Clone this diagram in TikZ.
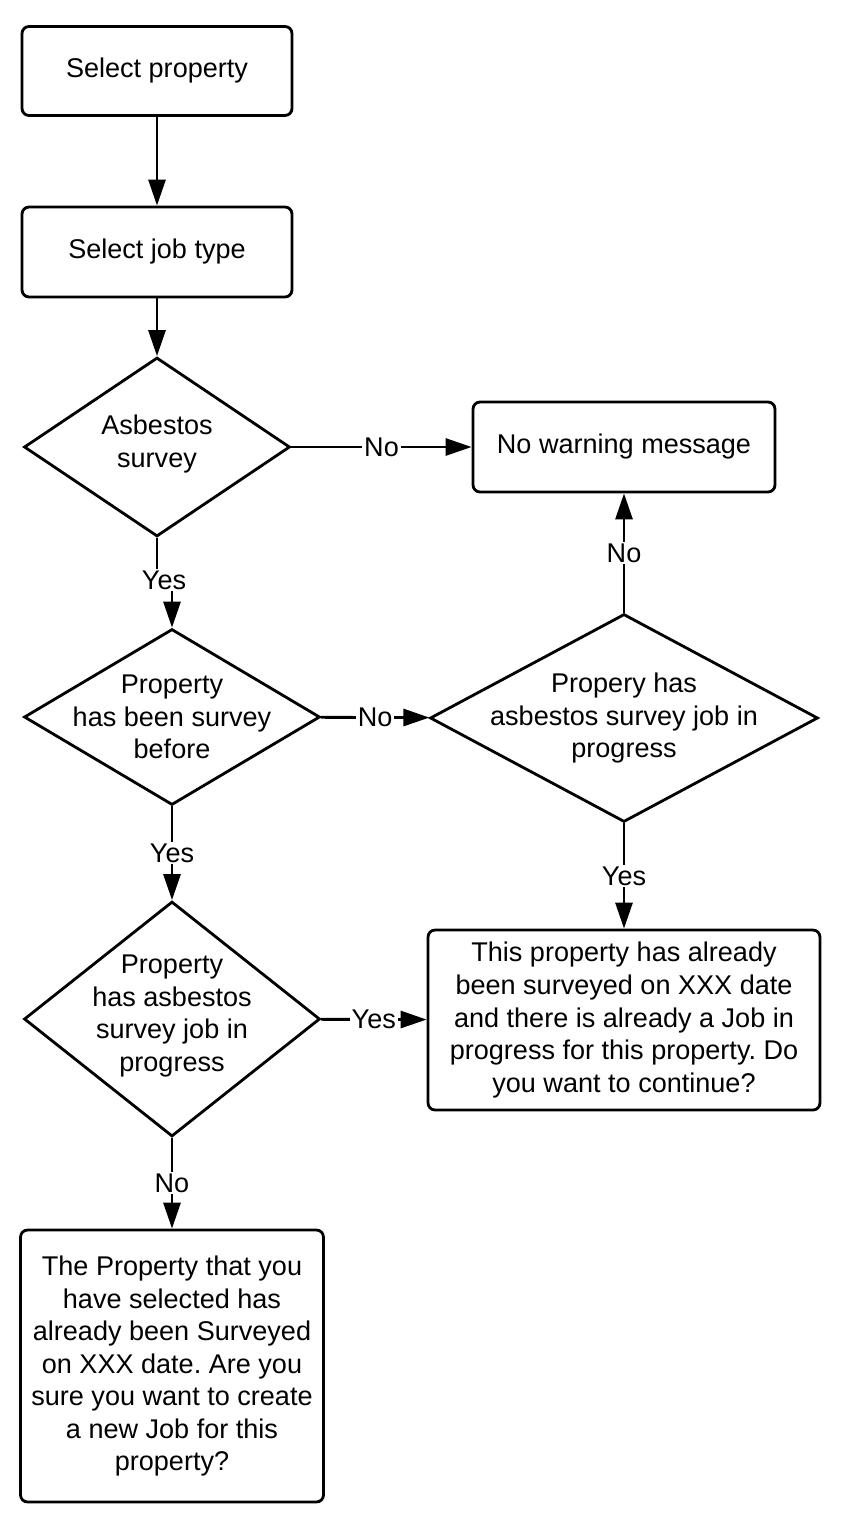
\documentclass[tikz,border=0pt]{standalone}
\usepackage{fontspec}
\setmainfont{Liberation Sans}
\usetikzlibrary{arrows.meta,shapes.geometric}
\frenchspacing

\tikzset{
  stepbox/.style={draw, line width=1.6pt, rounded corners=0.14cm, fill=white, align=center, inner sep=0pt},
  decision/.style={draw, diamond, line width=1.6pt, fill=white, inner sep=0pt},
  dtext/.style={align=center, inner sep=0pt},
  flow/.style={line width=1.6pt, -{Triangle[length=0.52cm,width=0.34cm]}},
  lab/.style={fill=white, inner sep=1pt}
}

\begin{document}
\begin{tikzpicture}[x=0.02cm, y=-0.02cm, font=\fontsize{15.4pt}{18.5pt}\selectfont]
\useasboundingbox (0,0) rectangle (840,1524);

% Riquadri
\node[stepbox, minimum width=5.4cm, minimum height=1.78cm] (prop) at (157,71) {Select property};
\node[stepbox, minimum width=5.4cm, minimum height=1.8cm] (job) at (157,252) {Select job type};
\node[stepbox, minimum width=6.04cm, minimum height=1.8cm] (nowarn) at (624,447) {No warning message};
\node[stepbox, minimum width=7.84cm, minimum height=3.6cm] (cont) at (624,1020)
  {This property has already\\been surveyed on XXX date\\and there is already a Job in\\progress for this property. Do\\you want to continue?};
\node[stepbox, minimum width=6.06cm, minimum height=5.44cm] (create) at (172,1366)
  {The Property that you\\have selected has\\already been Surveyed\\on XXX date. Are you\\sure you want to create\\a new Job for this\\property?};

% Decisioni
\node[decision, minimum width=5.32cm, minimum height=3.58cm,
  label={[dtext, yshift=0.06cm]center:Asbestos\\survey}] (asb) at (157,447) {};
\node[decision, minimum width=5.92cm, minimum height=3.52cm,
  label={[dtext]center:Property\\has been survey\\before}] (before) at (172,717) {};
\node[decision, minimum width=7.76cm, minimum height=4.16cm,
  label={[dtext]center:Propery has\\asbestos survey job in\\progress}] (inprog) at (624,718) {};
\node[decision, minimum width=5.92cm, minimum height=4.7cm,
  label={[dtext, yshift=0.06cm]center:Property\\has asbestos\\survey job in\\progress}] (jobprog) at (172,1019) {};

% Collegamenti
\draw[flow] (prop) -- (job);
\draw[flow] (job) -- (asb);
\draw[flow] (asb) -- node[lab] (l1) {No} (nowarn);
\draw[flow] (asb.south) -- ++(0,43) -| (before.north);
\node[lab] (l2) at (164,580) {Yes};
\draw[flow] (before) -- node[lab] (l3) {No} (inprog);
\draw[flow] (inprog) -- node[lab] (l4) {No} (nowarn);
\draw[flow] (inprog) -- node[lab] (l5) {Yes} (cont);
\draw[flow] (before) -- node[lab] (l6) {Yes} (jobprog);
\draw[flow] (jobprog) -- node[lab] (l7) {Yes} (cont);
\draw[flow] (jobprog) -- node[lab] (l8) {No} (create);

\end{tikzpicture}
\end{document}
